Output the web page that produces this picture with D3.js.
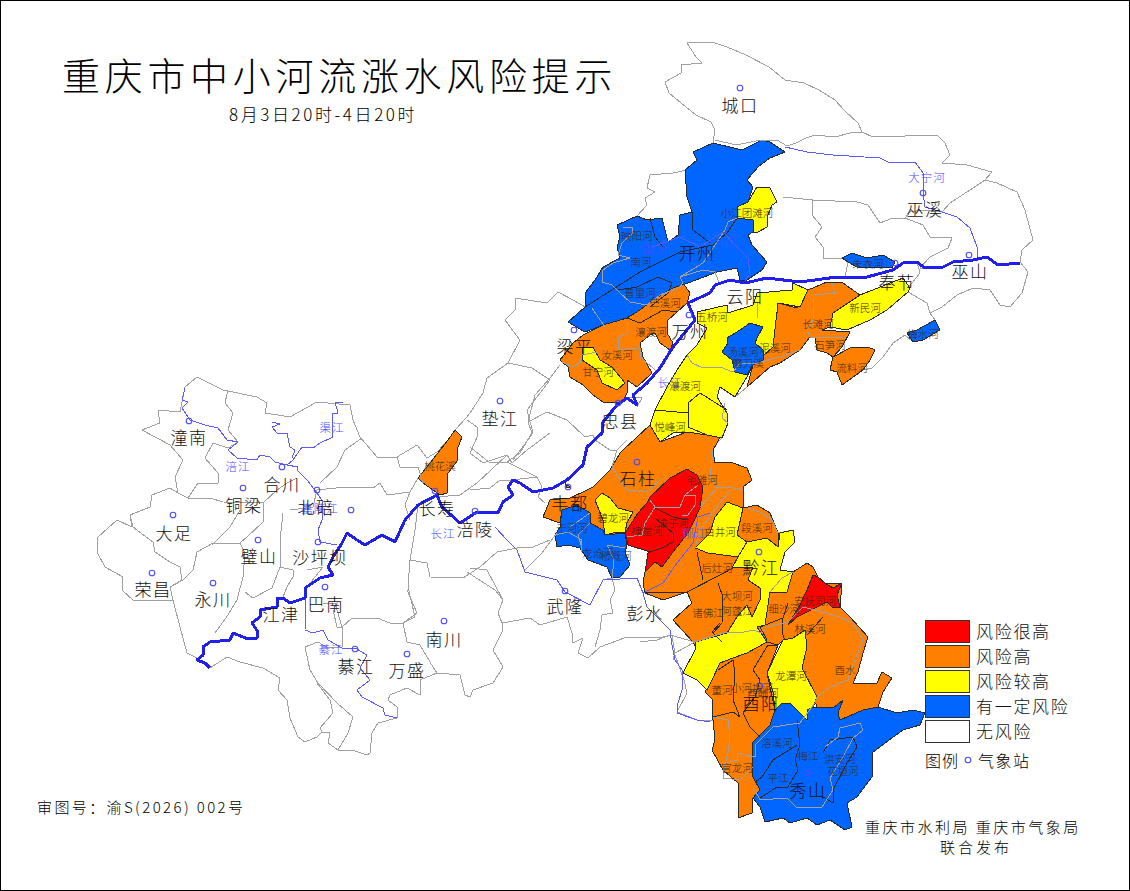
<!DOCTYPE html>
<html>
<head>
<meta charset="utf-8">
<script src="https://cdn.jsdelivr.net/npm/d3@7"></script>
<style>
  html, body { margin: 0; padding: 0; background: #fff; }
  text { font-family: "Noto Sans CJK SC", "Noto Sans", sans-serif; }
</style>
</head>
<body>
<div id="map"></div>
<script>
// map data, "x,y x,y ..." in map units of the picture
const outerLine = "687,43 712,42 727,47 746,55 769,67 785,80 804,83 819,90 835,100 844,110 858,123 862,132 873,137 905,136 937,135 945,143 950,155 942,163 967,165 992,172 985,180 997,183 1017,192 1025,210 1033,240 1022,250 1020,262 1028,272 1022,293 1010,307 1000,305 990,290 973,288 957,295 942,307 930,313 935,320 940,330 923,340 913,342 905,335 893,343 883,357 872,368 863,370 842,385 837,372 830,370 833,357 827,353 817,350 815,338 810,337 800,350 780,363 770,367 747,387 735,397 720,387 717,397 727,413 728,423 722,438 717,443 713,450 715,463 730,462 747,468 752,480 743,487 743,508 757,505 770,513 778,533 793,530 795,542 785,552 780,570 793,572 807,563 813,567 818,577 825,583 842,583 840,607 850,617 868,637 863,653 858,672 853,683 877,683 882,672 892,678 883,692 878,707 897,713 913,710 925,713 920,725 903,730 885,743 872,753 872,777 857,797 847,803 852,827 845,830 830,820 817,825 807,818 790,823 783,818 765,822 760,807 753,798 752,813 738,818 738,783 723,770 712,750 715,740 713,720 697,720 677,712 687,693 684,680 675,655 672,635 663,637 650,638 627,637 600,647 588,658 578,653 583,638 573,643 572,633 567,617 540,625 530,618 502,623 503,630 493,650 503,667 493,683 473,690 470,697 465,695 460,675 437,673 420,680 420,695 407,688 390,695 388,700 397,707 397,718 378,723 372,733 370,753 367,755 352,750 338,750 328,743 330,733 322,732 317,737 305,742 298,737 290,718 287,700 278,690 280,678 263,668 240,662 227,657 210,668 197,658 187,653 180,627 173,600 133,600 122,590 123,577 105,567 97,552 98,537 117,520 132,527 130,515 150,507 152,495 170,488 178,493 175,477 183,460 170,445 142,430 160,423 158,410 180,412 185,387 197,377 223,390 257,397 267,403 265,413 290,417 317,402 350,405 353,420 360,437 377,457 397,457 417,445 427,458 437,452 448,440 455,430 467,417 470,413 483,393 487,378 508,363 520,340 505,320 515,310 515,298 547,303 558,292 573,300 587,308 585,293 595,280 603,267 620,258 617,247 620,237 617,225 637,216 647,205 645,198 655,192 647,188 650,175 673,173 687,170 697,160 693,152 713,143 715,130 711,122 696,115 681,103 669,93 665,82 681,73 681,65 702,63 696,57 687,43";

const countyLines = [
  // north east
  "715,140 736,145 761,140 777,140 787,146 796,143 806,138 815,135 835,137 850,133 862,132",
  "783,197 813,200 857,202 868,205 880,223 893,218 905,218 910,212 923,210 942,212 950,203 970,190 985,180",
  "905,218 923,225 930,237 952,238 948,248 930,257 920,268 925,268",
  "813,200 812,215 822,227 815,237 823,247 823,258 842,258",
  "848,262 845,277", "908,292 927,303 930,313", "908,288 920,273 917,262",
  // kaizhou, wanzhou
  "683,283 680,277 703,263 725,230 728,222 737,218",
  "680,277 703,270 715,272 720,285",
  "623,227 632,227 633,233 622,243 618,255 630,258 613,263 603,270 602,282 612,285 620,293 630,302 647,305 660,295 680,287 683,283",
  "592,308 605,327",
  "627,322 627,333 618,338 618,350 633,348 640,350 640,357 653,368 658,373",
  "562,362 573,367 580,363 582,355 597,352",
  "627,397 642,398 637,407",
  "687,355 692,363 703,368 720,367 733,372 740,363 757,363 780,357 800,350",
  "832,283 835,293 813,295 813,320 807,330 810,337 817,338 845,337",
  "757,303 758,318", "725,403 722,418 728,423",
  // dianjiang, zhongxian, fengdu
  "560,365 550,378 535,395 528,422 532,433 520,453 507,462 490,463 470,447",
  "508,363 532,368 550,380",
  "528,422 547,412 567,420 585,437 593,435 595,440 610,450 617,450 627,440",
  "507,462 537,477 542,487 538,497 545,503",
  "470,490 490,488 500,480 512,480 537,477",
  "557,533 542,553 525,570",
  "617,450 612,467 627,490 647,492 662,478",
  "713,450 710,477 717,488 700,507", "717,488 730,487 743,490",
  "650,500 655,507 645,523 642,535 627,537", "655,507 680,507 685,495 698,485",
  "685,495 695,495 695,505 688,515 682,515",
  "570,527 590,513", "555,535 568,532 582,540 581,552", "590,523 578,535 582,548",
  "612,578 614,560 607,545 625,548",
  // west part
  "228,390 225,403 233,413 228,430 238,442 228,448 213,443 205,458 218,473 218,483 198,483 188,498 178,493",
  "188,498 210,498 223,502 263,503 277,490 287,483 297,478",
  "263,503 263,522 247,537 240,543 213,543 197,552 193,570 183,580 170,587",
  "130,515 133,527 153,542 155,552 170,562 180,567 182,580 170,587 173,600",
  "212,545 230,527 240,510",
  "240,543 245,553 243,577 237,600 228,615 215,633",
  "283,513 280,540 280,567 272,588 253,598 245,592",
  "280,567 293,570 293,577 287,587 283,597",
  "307,570 323,567 307,587 305,600", "290,510 313,507 317,490 345,487 357,487 373,488 380,483 387,495 410,492 418,478",
  "362,438 345,450 337,467 320,483",
  "397,457 400,467 418,467 423,483",
  "410,492 405,505 410,520", "418,505 415,530 410,560 408,587 415,617 403,623",
  "437,497 460,495 477,483 507,455 512,463 527,450 550,433",
  "467,420 477,427 478,435 470,453 483,463 507,455",
  "550,380 527,410 533,433 513,460",
  "410,560 427,563 430,577 463,578 480,567 497,552 517,548 533,547 550,540",
  "467,572 495,590 503,600 498,613 502,623",
  "470,568 487,570 503,600",
  "603,580 612,578 615,590 610,600 613,613 602,615 600,630 595,647",
  "333,610 337,627 342,627 352,618 377,618 390,623 403,623 407,642 420,645 433,667 437,673",
  "323,603 335,603 342,627 342,647 328,648 318,642 305,647 310,670 318,683 337,703 353,717 348,733 338,750",
  "317,683 330,700 333,713 320,728 322,732",
  "407,590 417,613 403,623",
  // south east
  "640,642 657,640 670,635 695,642 675,653 673,660",
  "695,642 727,632 740,633 753,630 762,633 767,627 788,622 803,607 827,613 840,617 853,623 863,640 850,673 848,680 830,687 817,697 815,703 800,723 773,727 763,737 755,745 755,757 737,753 738,760 725,763 723,778 740,780 753,767",
  "713,717 728,720 730,737 728,753 725,763",
  "753,787 760,800 787,798 797,808 822,807 833,790 830,778 843,757 853,738 863,730 860,723 840,728 838,737 825,747",
  "747,508 760,512 772,520 778,533", "770,592 782,578 793,572",
  "695,548 700,530 712,513 730,490"
];

const basinLines = [
  "650,218 655,237 663,247",
  "585,307 607,293 640,272 680,252 713,245 727,233 737,218",
  "692,212 693,230 710,243",
  "618,290 637,287 658,277 672,283 668,293 650,307",
  "627,318 640,323 663,310 677,312",
  "700,393 688,403 688,427 707,435", "655,410 688,413", "700,393 727,410",
  "655,508 673,517 687,520", "655,518 673,533 673,542 662,548 650,552",
  "697,552 703,580", "643,593 687,592 720,575 733,568",
  "718,583 723,597 722,623 713,633",
  "718,670 733,660 735,673 733,700 740,717", "713,717 733,712 740,717",
  "753,670 768,645 778,645", "753,670 760,680 755,697 743,713 750,727 760,737",
  "720,623 712,632 722,642", "767,640 760,627 783,618 788,603", "807,635 823,617", "783,618 782,633 785,640",
  "797,720 800,745 795,760 798,770 788,787 777,787 760,798",
  "797,745 773,760 762,777 755,782",
  "823,753 830,740 853,737 857,747 847,763 833,790 833,803 823,797"
];

// risk areas by level
const redAreas = [
  "687,469 697,475 703,487 700,508 693,523 688,533 673,552 662,567 655,562 645,572 648,553 650,552 628,545 625,533 638,513 647,503 650,497 670,478",
  "813,575 818,577 825,583 833,588 842,583 837,595 840,607 832,607 827,602 817,607 797,617 788,625 800,605 807,590"
];
const orangeAreas = [
  "683,283 690,293 687,303 677,312 668,320 667,333 673,343 670,350 660,343 655,333 650,335 640,343 643,357 652,373 637,387 627,380 627,393 623,402 603,402 593,395 583,385 570,377 568,367 560,360 573,343 583,335 603,325 627,318 640,310 653,300 673,288",
  "778,303 797,308 803,300 808,290 827,282 843,283 860,295 833,313 830,327 822,330 850,332 842,347 833,357 827,353 817,350 815,338 810,337 800,350 780,363 770,367 747,387 753,365 763,360 763,350 755,343 757,338 763,327 777,313",
  "833,357 850,348 868,347 875,350 870,360 863,370 842,385 837,372 830,370",
  "455,430 462,437 457,450 458,460 448,473 447,493 440,495 433,490 423,483 418,478 430,463 448,440",
  "623,450 650,425 660,442 687,432 707,435 722,438 728,423 717,443 713,450 715,463 730,462 747,468 752,480 743,487 743,508 757,505 770,513 778,533 778,547 772,570 767,592 762,620 745,640 700,655 693,642 673,620 692,603 687,592 663,600 645,593 643,583 645,572 647,560 650,552 628,545 625,533 605,535 603,530 590,523 590,513 577,505 562,510 560,523 543,517 550,500 570,498 587,490 593,487 610,470 620,453",
  "565,483 570,487 567,488",
  "770,592 787,592 793,572 807,563 813,567 818,577 825,583 842,583 840,607 850,617 868,637 863,653 858,672 853,683 877,683 882,672 892,678 883,692 878,707 863,710 840,720 838,713 843,700 833,708 817,707 802,668 807,647 805,630 793,638 783,640 778,645 767,642 757,627 765,625",
  "767,642 747,653 733,658 720,663 712,680 705,692 713,700 712,710 713,720 715,740 712,750 723,770 738,783 738,818 752,813 753,798 760,790 752,775 752,743 770,725 775,710 767,673 778,645"
];
const yellowAreas = [
  "757,187 770,188 777,202 772,205 768,215 767,227 758,232 753,232 753,220 737,218 737,207 748,202",
  "583,347 593,347 600,360 612,367 625,383 617,390 602,383 597,370 582,360",
  "697,312 727,305 728,313 753,305 757,293 792,290 793,283 808,290 800,307 778,303 773,347 753,365 747,377 735,397 720,387 717,397 727,413 728,423 722,438 707,435 687,432 673,433 660,442 650,425 655,410 667,387 677,370 687,355 697,345 707,328 697,323",
  "833,313 860,295 903,278 910,288 908,292 887,310 870,320 847,330 830,327",
  "602,493 610,498 618,508 633,512 627,523 625,532 613,533 605,535 603,520 595,500",
  "727,502 743,508 737,535 747,542 738,557 708,553 695,548 710,533 715,517",
  "747,542 767,538 778,547 780,533 793,530 795,542 785,552 780,570 793,572 787,592 770,592 765,625 757,627 767,642 747,653 733,658 720,663 712,680 707,690 697,680 683,673 695,650 695,642 727,633 737,617 747,605 752,617 760,600 760,588 748,580 753,567 732,568 738,557",
  "805,630 807,647 802,668 817,697 813,707 807,710 807,720 800,713 790,703 782,703 775,710 773,692 767,673 778,650 783,640 793,638"
];
const blueAreas = [
  "568,322 585,307 585,293 595,280 603,267 620,258 617,247 620,237 617,225 637,216 647,220 662,218 668,242 678,235 680,215 692,212 687,197 685,170 697,160 693,152 713,143 742,150 762,140 770,142 785,152 770,158 758,167 747,180 753,187 748,202 737,207 737,218 753,220 753,232 748,235 752,245 767,262 762,270 747,280 740,280 737,268 717,272 688,283 673,288 653,300 640,310 627,318 603,325 585,332",
  "750,323 763,327 757,338 755,343 763,350 763,360 753,365 747,375 735,372 732,360 722,352 728,343 727,338 740,330",
  "842,258 852,253 867,258 883,255 895,262 892,268 873,267 857,267 848,262",
  "907,333 917,330 935,320 940,330 923,340 913,342",
  "562,510 577,505 590,513 590,523 603,530 605,535 625,533 627,545 625,552 630,565 620,577 612,578 607,567 588,560 580,548 568,545 557,547 555,535 560,527",
  "775,710 782,703 790,703 800,713 807,720 807,710 813,707 833,708 843,700 838,713 840,720 863,710 878,707 897,713 913,710 925,713 920,725 903,730 885,743 872,753 872,777 857,797 847,803 852,827 845,830 830,820 817,825 807,818 790,823 783,818 765,822 760,807 753,798 760,790 752,775 752,743 770,725"
];

const yangtze = "210,668 205,663 197,660 203,655 203,647 210,642 230,640 233,633 248,639 257,638 258,632 252,623 260,617 260,610 277,607 277,598 283,598 290,603 305,598 305,588 320,578 333,575 328,567 333,557 342,543 347,533 357,540 365,545 382,535 395,542 405,520 418,505 437,495 442,507 460,523 477,512 498,513 503,502 513,495 508,487 513,480 520,483 533,492 553,488 567,480 583,465 587,447 602,433 603,422 617,405 627,398 637,405 633,395 647,383 660,368 673,347 695,320 688,303 710,293 715,285 730,280 745,283 767,278 800,282 837,277 867,277 893,270 903,263 917,262 925,268 943,267 953,262 973,260 987,257 998,265 1020,263";
const thinRivers = [
  "785,147 807,152 833,155 880,158 888,162 915,162 923,173 923,193 925,207 942,212 957,217 970,228 977,247 977,258",
  "185,388 182,400 188,402 182,408 190,420 205,425 218,428 227,440 238,442 228,450 237,458 257,460 260,455 270,457 275,462 287,465",
  "343,402 335,402 338,413 332,413 333,437 320,443 313,448 302,447 293,460 287,465",
  "272,422 280,424 272,427 277,433 287,433 288,438 290,447 295,450 292,458",
  "287,465 298,467 297,470 307,480 317,493 323,502 322,520 318,530 320,542 337,545",
  "495,527 507,540 517,550 525,572 557,580 565,592 590,605 603,580 637,578 643,593 647,607 670,630 672,645 675,660 682,670 683,687 678,703 677,713 697,720 710,722",
  "643,593 663,583 677,563 693,543 698,517 710,513",
  "305,590 306,607 305,630 313,633 323,630 328,640 342,648 355,648 367,655 360,668 370,680 357,690 362,697 383,708 385,715 397,718",
  "652,247 680,237 700,247 723,232 737,247 748,258 750,273 745,282"
];

const stationPts = [[740,88],[923,193],[895,263],[969,255],[689,315],[574,330],[618,403],[500,401],[568,487],[637,462],[475,511],[435,491],[317,490],[351,510],[282,467],[243,488],[189,421],[173,515],[258,540],[152,573],[213,583],[318,542],[325,587],[355,649],[407,654],[444,621],[565,591],[759,552],[760,686],[808,773]];

const countyNames = ["城口","巫溪","奉节","巫山","开州","云阳","万州","梁平","忠县","垫江","丰都","石柱","长寿","涪陵","合川","铜梁","潼南","北碚","大足","璧山","沙坪坝","荣昌","永川","巴南","江津","綦江","万盛","南川","武隆","彭水","黔江","酉阳","秀山"];
const countyPos = [[740,104],[925,208],[897,281],[970,270],[697,252],[745,295],[690,330],[575,345],[620,420],[500,417],[570,502],[638,477],[437,507],[475,528],[282,483],[244,504],[189,436],[316,506],[174,532],[259,555],[320,556],[153,588],[213,598],[326,603],[281,613],[356,665],[407,669],[444,638],[565,605],[645,612],[761,566],[761,702],[808,789]];

const basinNames = ["映阳河","南河","小江团滩河","普里河","苎溪河","瀼渡河","汝溪河","甘宁河","五桥河","新民河","长滩河","朱衣河","梅水河","石笋河","流料河","泥溪河","汤溪河","磨刀溪","瀼渡河","悦峰河","毛滩河","渝子河","棣堂河","白井河","碧龙河","段溪河","后灶河","大坝河","阿蓬江","诸佛江","细沙河","安抚司河","林溪河","酉水","龙潭河","董河","小河坝河","酉酬河","溶溪河","梅江","洪安河","花垣河","平江","官龙河","于河河","龙沧河","松溉河","桃花溪"];
const basinPos = [[637,235],[641,261],[747,212],[640,292],[665,302],[651,331],[617,354],[598,371],[712,316],[865,307],[818,323],[868,263],[923,333],[830,344],[852,367],[775,347],[743,351],[748,362],[685,385],[670,426],[702,479],[673,522],[647,530],[720,531],[613,517],[757,527],[717,567],[737,595],[737,610],[708,612],[784,608],[815,600],[810,628],[845,669],[791,675],[722,689],[752,687],[763,692],[777,742],[808,755],[840,758],[843,770],[778,777],[737,767],[572,527],[598,552],[616,555],[440,465]];

const riverNames = ["大宁河","南河","小江","长江","郁江","涪江","渠江","嘉陵江","长江","綦江"];
const riverPos = [[927,177],[655,249],[728,240],[670,382],[695,533],[238,466],[332,427],[320,508],[443,533],[331,649]];

const legendNames = ["风险很高","风险高","风险较高","有一定风险","无风险"];
const legendColors = ["#ff0000","#ff7f00","#ffff00","#0066ff","#ffffff"];

const w = 1130, h = 891;

var svg = d3.select("div#map").append("svg")
  .attr("width", w)
  .attr("height", h)
  .style("display", "block");

svg.append("rect").attr("x", 0.5).attr("y", 0.5).attr("width", w - 1).attr("height", h - 1)
  .attr("fill", "#fff").attr("stroke", "#000");

// map units are picture pixels, so the projection stays the identity
var path = d3.geoPath(d3.geoIdentity());

function pts(s) {
  return s.trim().split(/\s+/).map(p => p.split(",").map(Number));
}
function lineFeature(s) {
  return {type: "LineString", coordinates: pts(s)};
}
function areaFeature(s) {
  var c = pts(s);
  c.push(c[0]);
  return {type: "Polygon", coordinates: [c]};
}

function drawLines(list, cls, color, width) {
  svg.append("g").attr("class", cls)
    .selectAll("path").data(list.map(lineFeature)).enter().append("path")
      .attr("d", path)
      .attr("fill", "none")
      .attr("stroke", color)
      .attr("stroke-width", width)
      .attr("stroke-linejoin", "round")
      .attr("shape-rendering", "crispEdges");
}

drawLines([outerLine], "outer", "#a0a0a0", 1);

var levels = [
  {areas: orangeAreas, color: legendColors[1]},
  {areas: yellowAreas, color: legendColors[2]},
  {areas: blueAreas, color: legendColors[3]},
  {areas: redAreas, color: legendColors[0]}
];
levels.forEach(function(l) {
  svg.append("g").selectAll("path").data(l.areas.map(areaFeature)).enter().append("path")
    .attr("d", path)
    .attr("fill", l.color)
    .attr("stroke", "#2a2a2a")
    .attr("stroke-width", 1)
    .attr("stroke-linejoin", "round")
    .attr("shape-rendering", "crispEdges");
});

drawLines(basinLines, "basins", "#2a2a2a", 1);
drawLines(countyLines, "counties", "#a0a0a0", 1);
drawLines(thinRivers, "rivers", "#5a5aff", 1);
drawLines([yangtze], "yangtze", "#2020ee", 3);

svg.append("g").selectAll("circle").data(stationPts).enter().append("circle")
  .attr("cx", d => d[0]).attr("cy", d => d[1]).attr("r", 2.8)
  .attr("fill", "none").attr("stroke", "#4a4aff").attr("stroke-width", 1.1);

function drawLabels(names, pos, size, color, spacing) {
  svg.append("g").selectAll("text").data(names).enter().append("text")
    .attr("x", (d, i) => pos[i][0])
    .attr("y", (d, i) => pos[i][1])
    .attr("text-anchor", "middle")
    .attr("dominant-baseline", "central")
    .style("font-size", size + "px")
    .style("letter-spacing", spacing + "px")
    .style("font-weight", 300)
    .style("fill", color)
    .text(d => d);
}

drawLabels(basinNames, basinPos, 10.5, "#3a2a10", 0);
drawLabels(riverNames, riverPos, 11.5, "#4a4aff", 1);
drawLabels(countyNames, countyPos, 17, "#111", 1.5);

// title
svg.append("text").attr("x", 62).attr("y", 73)
  .attr("dominant-baseline", "central")
  .style("font-size", "38px").style("letter-spacing", "4.7px").style("font-weight", 300).style("fill", "#000")
  .text("重庆市中小河流涨水风险提示");
svg.append("text").attr("x", 229).attr("y", 113)
  .attr("dominant-baseline", "central")
  .style("font-size", "17px").style("letter-spacing", "2.6px").style("font-weight", 300).style("fill", "#000")
  .text("8月3日20时-4日20时");

// legend
var legend = svg.append("g");
legend.selectAll("rect").data(legendColors).enter().append("rect")
  .attr("x", 925.5).attr("y", (d, i) => 620.5 + i * 25)
  .attr("width", 44).attr("height", 22)
  .attr("fill", d => d).attr("stroke", "#333").attr("stroke-width", 1);
legend.selectAll("text").data(legendNames).enter().append("text")
  .attr("x", 976).attr("y", (d, i) => 630 + i * 25)
  .attr("dominant-baseline", "central")
  .style("font-size", "17px").style("letter-spacing", "1.7px").style("font-weight", 300).style("fill", "#111")
  .text(d => d);
legend.append("text").attr("x", 925).attr("y", 760).attr("dominant-baseline", "central")
  .style("font-size", "16px").style("letter-spacing", "1px").style("font-weight", 300).text("图例");
legend.append("circle").attr("cx", 968).attr("cy", 760).attr("r", 2.8)
  .attr("fill", "none").attr("stroke", "#4a4aff").attr("stroke-width", 1.1);
legend.append("text").attr("x", 978).attr("y", 760).attr("dominant-baseline", "central")
  .style("font-size", "16px").style("letter-spacing", "1.5px").style("font-weight", 300).text("气象站");

// footer notes
svg.append("text").attr("x", 37).attr("y", 806).attr("dominant-baseline", "central")
  .style("font-size", "15px").style("letter-spacing", "2.4px").style("font-weight", 300).text("审图号：渝S(2026) 002号");
svg.append("text").attr("x", 865).attr("y", 826).attr("dominant-baseline", "central")
  .style("font-size", "15px").style("letter-spacing", "2.5px").style("font-weight", 300).text("重庆市水利局 重庆市气象局");
svg.append("text").attr("x", 940).attr("y", 846).attr("dominant-baseline", "central")
  .style("font-size", "15px").style("letter-spacing", "3px").style("font-weight", 300).text("联合发布");
</script>
</body>
</html>
